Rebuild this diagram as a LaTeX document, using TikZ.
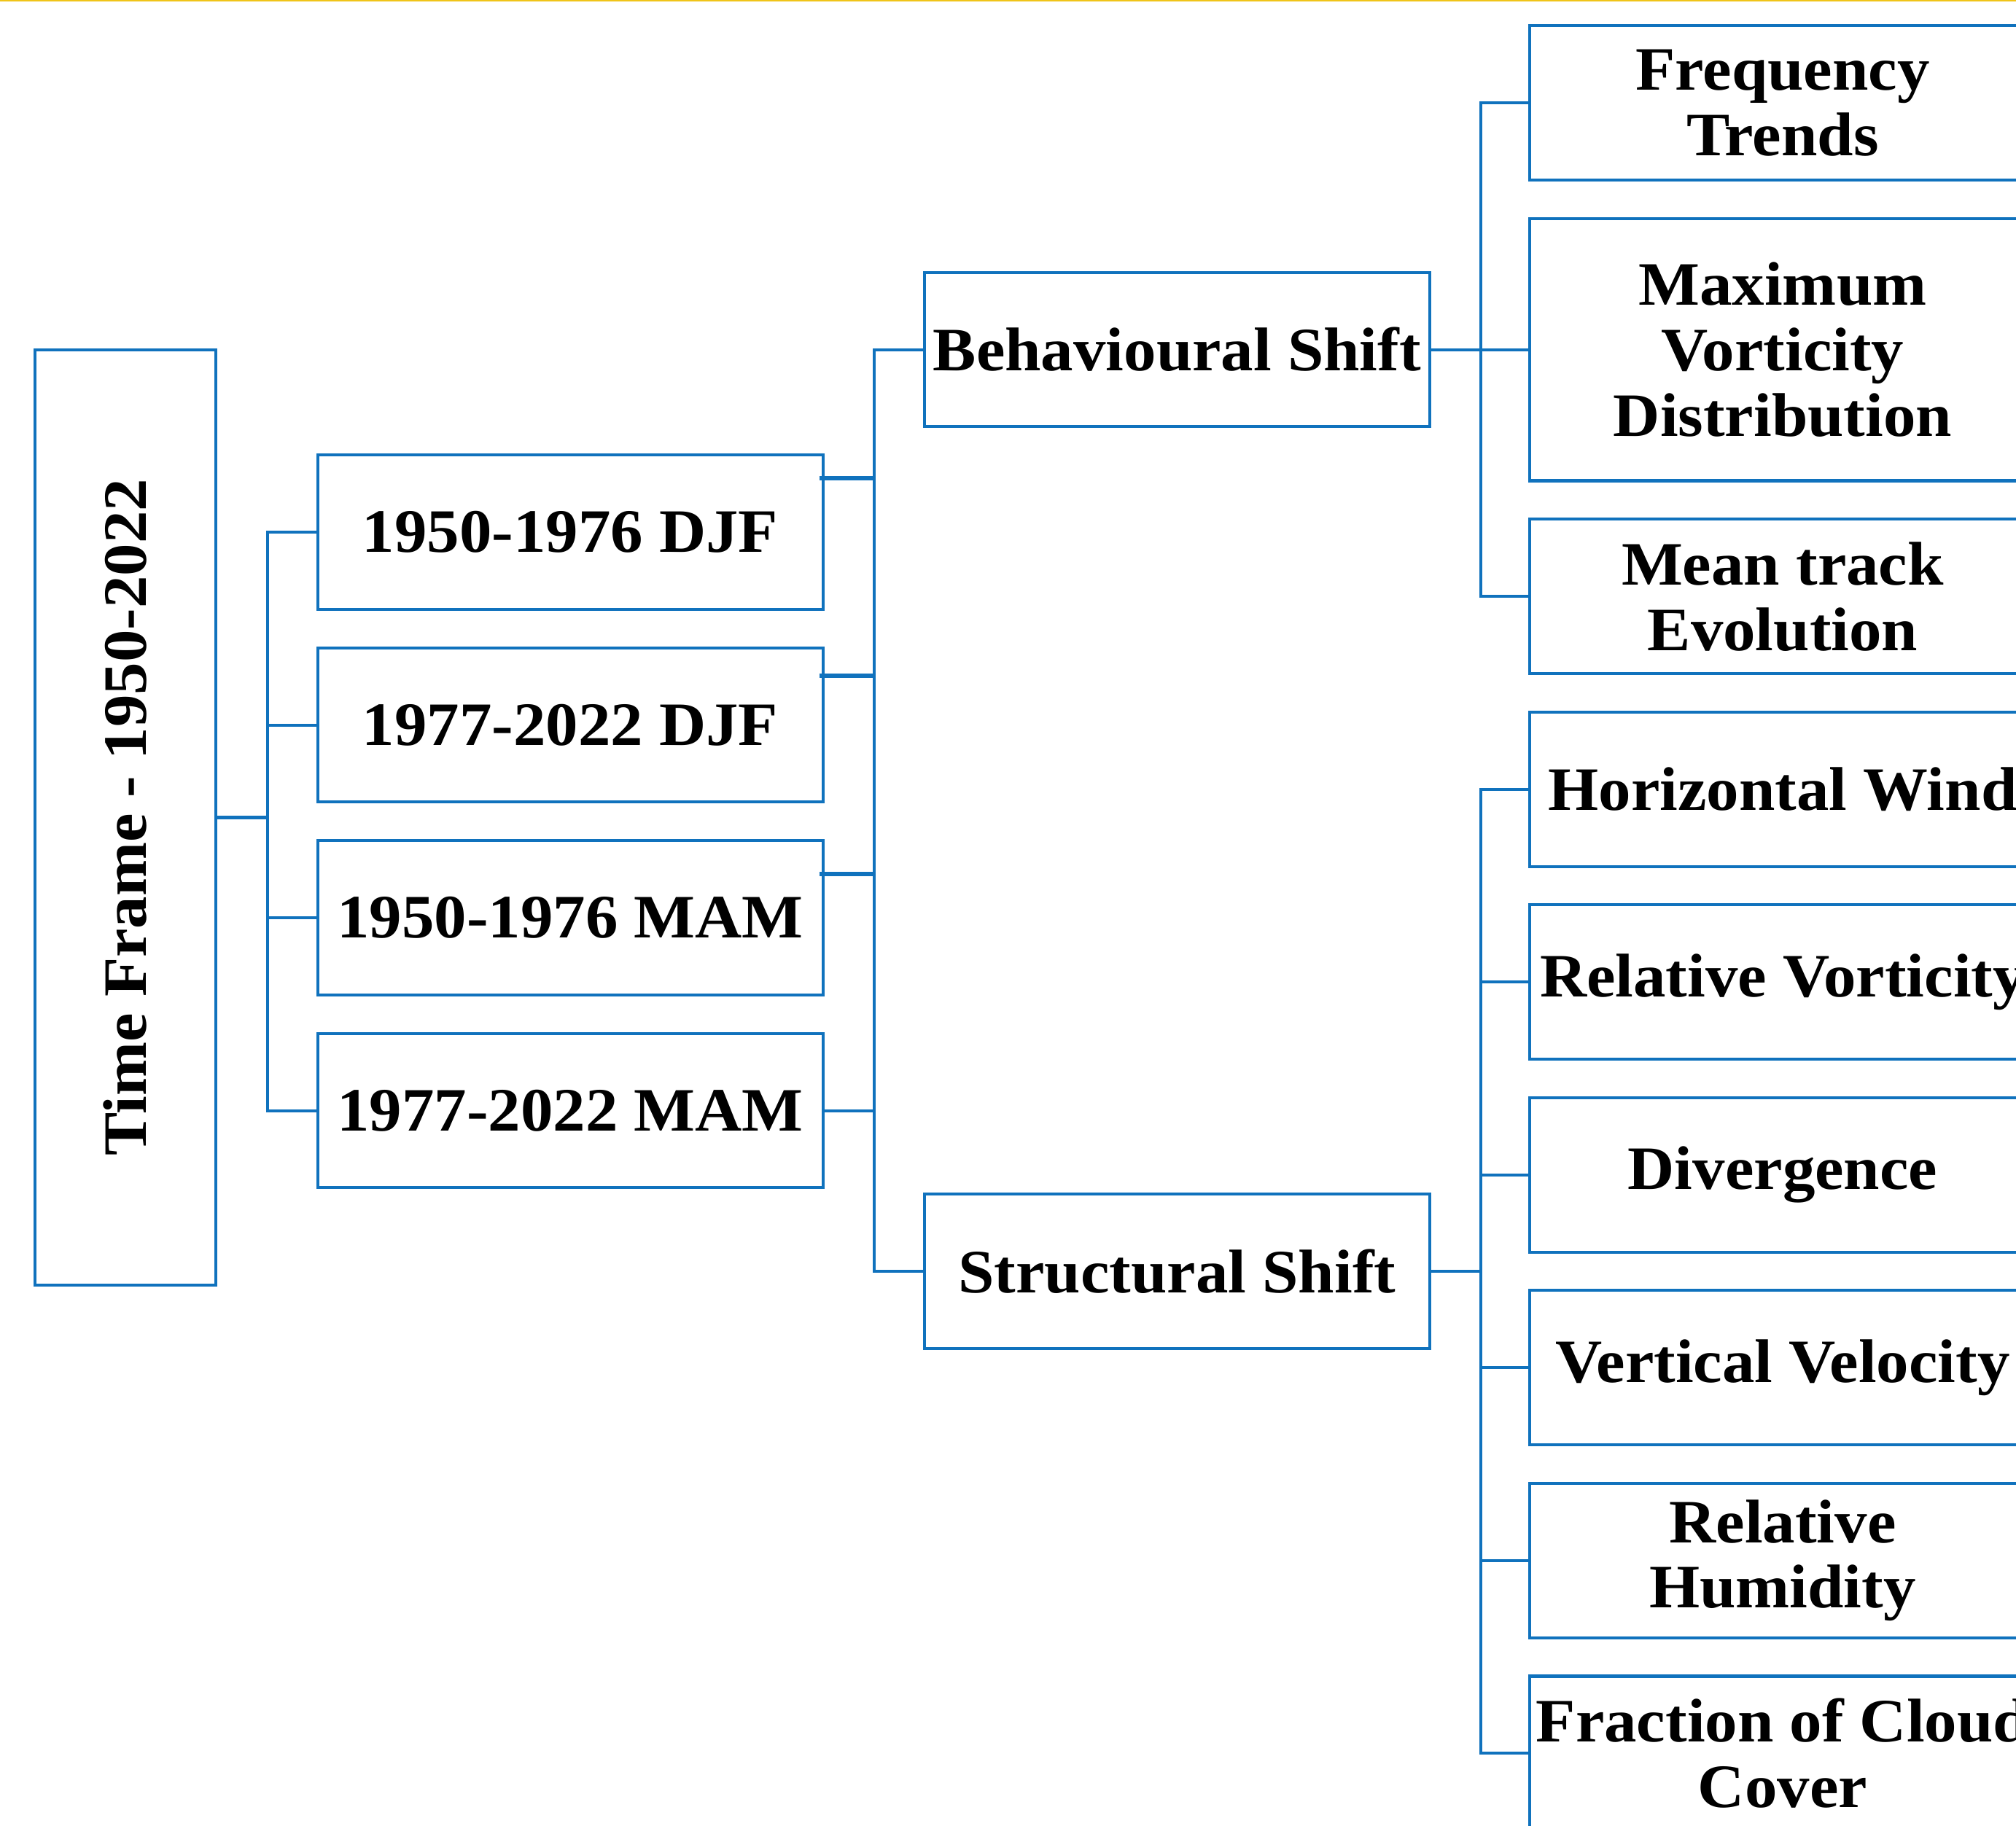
\documentclass[tikz,border=0pt]{standalone}
\usepackage{graphicx}
\usepackage{fontspec}
\setmainfont{Liberation Serif}[FakeStretch=1.05]
\usetikzlibrary{calc}
\definecolor{lineblue}{RGB}{16,114,189}
\definecolor{topgold}{RGB}{240,196,25}
\begin{document}
\begin{tikzpicture}[x=1pt,y=-1pt,
  box/.style={draw=lineblue, line width=2.3pt, align=center, inner sep=0pt,
    font=\fontsize{48}{51}\selectfont\bfseries, text=black,
    minimum width=393pt, minimum height=120pt},
  conn/.style={draw=lineblue, line width=2.3pt},
  thickconn/.style={draw=lineblue, line width=3.4pt}]
\useasboundingbox (0,0) rectangle (1568,1420);
\clip (0,0) rectangle (1568,1420);
\fill[white] (0,0) rectangle (1568,1420);
\draw[topgold, line width=2.2pt] (0,0) -- (1568,0);

% root
\node[box, minimum width=141pt, minimum height=728pt] (tf) at (97.5,636)
  {\rotatebox{90}{Time Frame - 1950-2022}};
% periods
\node[box] (p1) at (443.5,414) {1950-1976 DJF};
\node[box] (p2) at (443.5,564) {1977-2022 DJF};
\node[box] (p3) at (443.5,714) {1950-1976 MAM};
\node[box] (p4) at (443.5,864) {1977-2022 MAM};
% shifts
\node[box] (bs) at (915.5,272) {Behavioural Shift};
\node[box] (ss) at (915.5,989) {Structural Shift};
% behavioural leaves
\node[box] (f1) at (1386.5,80) {Frequency\\Trends};
\node[box, minimum height=204pt] (f2) at (1386.5,272) {Maximum\\Vorticity\\Distribution};
\node[box] (f3) at (1386.5,464) {Mean track\\Evolution};
% structural leaves
\node[box] (s1) at (1386.5,614) {Horizontal Wind};
\node[box] (s2) at (1386.5,764) {Relative Vorticity};
\node[box] (s3) at (1386.5,914) {Divergence};
\node[box] (s4) at (1386.5,1064) {Vertical Velocity};
\node[box] (s5) at (1386.5,1214) {Relative\\Humidity};
\node[box] (s6) at (1386.5,1364) {Fraction of Cloud\\Cover};

\coordinate (busA) at (208,0);
\coordinate (busB) at (680,0);
\coordinate (busC) at (1152,0);

% root to periods
\draw[conn] (tf.east) -- (tf.east -| busA);
\draw[conn] (p1.west) -- (p1.west -| busA) -- (p4.west -| busA) -- (p4.west);
\draw[conn] (p2.west -| busA) -- (p2.west);
\draw[conn] (p3.west -| busA) -- (p3.west);

% periods to shifts
\draw[conn] (bs.west) -- (bs.west -| busB) -- (ss.west -| busB) -- (ss.west);
\draw[conn] (p4.east) -- (p4.east -| busB);
\coordinate (t1) at ($(p1.north east)+(-4,19)$);
\coordinate (t2) at ($(p2.north east)+(-4,23)$);
\coordinate (t3) at ($(p3.north east)+(-4,27)$);
\draw[thickconn] (t1) -- (t1 -| busB);
\draw[thickconn] (t2) -- (t2 -| busB);
\draw[thickconn] (t3) -- (t3 -| busB);

% behavioural
\draw[conn] (bs.east) -- (f2.west);
\draw[conn] (f1.west) -- (f1.west -| busC) -- (f3.west -| busC) -- (f3.west);

% structural
\draw[conn] (ss.east) -- (ss.east -| busC);
\draw[conn] (s1.west) -- (s1.west -| busC) -- (s6.west -| busC) -- (s6.west);
\foreach \n in {s2,s3,s4,s5}
  \draw[conn] (\n.west -| busC) -- (\n.west);
\end{tikzpicture}
\end{document}
